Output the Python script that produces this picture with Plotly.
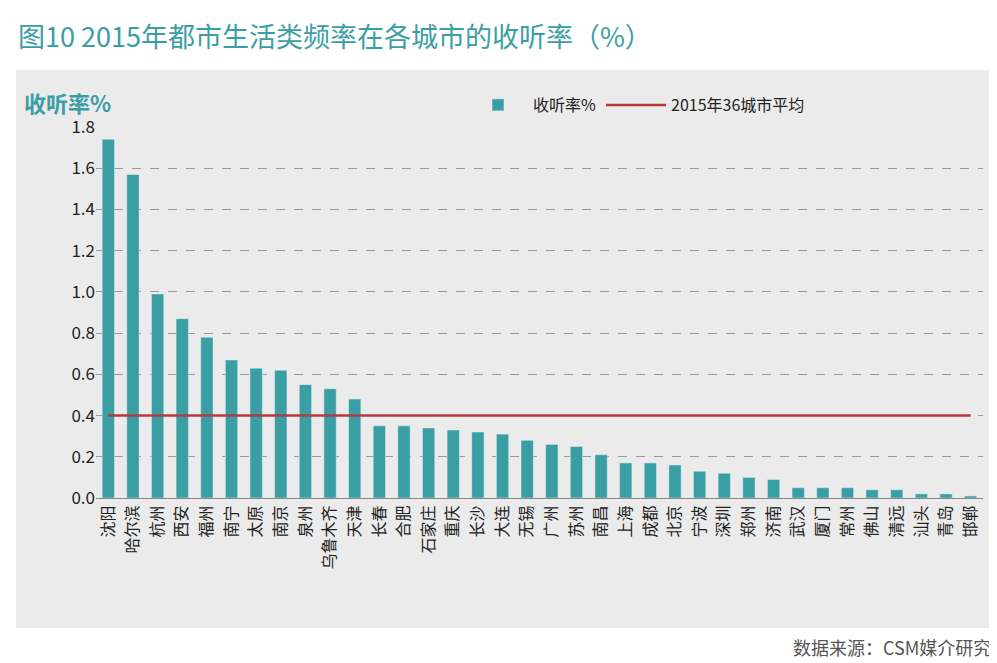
import plotly.graph_objects as go

cities = ["沈阳","哈尔滨","杭州","西安","福州","南宁","太原","南京","泉州","乌鲁木齐","天津","长春",
          "合肥","石家庄","重庆","长沙","大连","无锡","广州","苏州","南昌","上海","成都","北京",
          "宁波","深圳","郑州","济南","武汉","厦门","常州","佛山","清远","汕头","青岛","邯郸"]
rates = [1.74,1.57,0.99,0.87,0.78,0.67,0.63,0.62,0.55,0.53,0.48,0.35,
         0.35,0.34,0.33,0.32,0.31,0.28,0.26,0.25,0.21,0.17,0.17,0.16,
         0.13,0.12,0.10,0.09,0.05,0.05,0.05,0.04,0.04,0.02,0.02,0.01]
average = 0.40

font = "Noto Sans CJK SC"
fig = go.Figure()
fig.add_bar(x=cities, y=rates, name="收听率%", marker_color="#3A9EA5", width=0.5)
fig.add_scatter(x=cities, y=[average]*len(cities), mode="lines", name="2015年36城市平均",
                line=dict(color="#B83A3A", width=2.5))

W, H = 997, 663
l, r, t, b = 88, 22, 119, 173
pw, ph = W - l - r, H - t - b
def px(xp): return (xp - l) / pw
def py(yp): return (H - b - yp) / ph

fig.add_shape(type="rect", xref="paper", yref="paper", x0=px(8), x1=px(990), y0=py(620), y1=py(62),
              fillcolor="#EBEBEB", line_width=0, layer="below")
fig.add_annotation(xref="paper", yref="paper", x=px(8), y=py(6), xanchor="left", yanchor="top",
                   text="图10 2015年都市生活类频率在各城市的收听率（%）", showarrow=False,
                   font=dict(family=font, size=27, color="#3A9EA5"))
fig.add_annotation(xref="paper", yref="paper", x=px(14), y=py(76), xanchor="left", yanchor="top",
                   text="<b>收听率%</b>", showarrow=False, font=dict(family=font, size=22, color="#3A9EA5"))
fig.add_annotation(xref="paper", yref="paper", x=px(985), y=py(624), xanchor="right", yanchor="top",
                   text="数据来源：CSM媒介研究", showarrow=False, font=dict(family=font, size=18, color="#555"))

fig.update_layout(
    width=W, height=H, margin=dict(l=l, r=r, t=t, b=b),
    paper_bgcolor="white", plot_bgcolor="rgba(0,0,0,0)",
    font=dict(family=font, size=16, color="#222"),
    showlegend=True,
    legend=dict(orientation="h", x=px(455), y=py(80), xanchor="left", yanchor="top",
                bgcolor="rgba(0,0,0,0)", font=dict(size=16), itemwidth=60),
    xaxis=dict(tickangle=-90, showline=True, linecolor="#888", tickfont=dict(size=16)),
    yaxis=dict(range=[0, 1.8], dtick=0.2, tickformat=".1f", showgrid=True, gridcolor="#999",
               griddash="dash", zeroline=False, showline=False, tickfont=dict(size=17)),
    bargap=0.5,
)
fig.write_html("out.html")
